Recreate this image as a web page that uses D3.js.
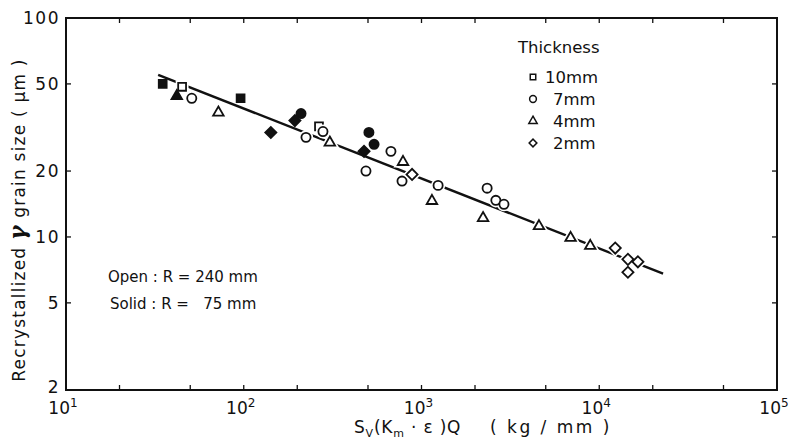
<!DOCTYPE html>
<html>
<head>
<meta charset="utf-8">
<script src="https://cdn.jsdelivr.net/npm/d3@7/dist/d3.min.js"></script>
<style>
  html, body { margin: 0; padding: 0; background: #fff; }
  svg { display: block; }
  text { font-family: "DejaVu Sans", sans-serif; fill: #111; }
</style>
</head>
<body>
<svg id="chart" width="791" height="439"></svg>
<script>
// ---- data ----
const xTickValues = [10, 100, 1000, 10000, 100000];
const xTickExponents = ["1", "2", "3", "4", "5"];
const xMinorTicks = [20, 50, 200, 500, 2000, 5000, 20000, 50000];
const yTickValues = [2, 5, 10, 20, 50, 100];
const yTickLabels = ["2", "5", "10", "20", "50", "100"];

// 10 mm (squares)
const sq10Open  = [[45, 48.5], [265, 32]];
const sq10Solid = [[35, 50], [96, 43]];
// 7 mm (circles)
const c7Open  = [[51, 43], [224, 28.5], [279, 30.3], [487, 20], [673, 24.6], [777, 18],
                 [1240, 17.2], [2340, 16.7], [2620, 14.7], [2910, 14.1]];
const c7Solid = [[210, 36.6], [506, 30], [541, 26.5]];
// 4 mm (triangles)
const t4Open  = [[72, 37], [305, 27], [787, 22], [1145, 14.6], [2220, 12.2],
                 [4580, 11.2], [6900, 9.9], [8900, 9.1]];
const t4Solid = [[42, 44]];
// 2 mm (diamonds)
const d2Open  = [[885, 19.3], [12300, 8.9], [14500, 7.9], [16500, 7.7], [14500, 6.9]];
const d2Solid = [[142, 30], [194, 34], [475, 24.6]];
// fitted line
const fitLine = [[33, 55], [22860, 6.8]];

const legendLabels = ["10mm", "7mm", "4mm", "2mm"];

// ---- layout ----
const svg = d3.select("#chart");
const L = 66, R = 777, T = 18, B = 390;
const x = d3.scaleLog().domain([10, 100000]).range([L, R]);
const y = d3.scaleLog().domain([2, 100]).range([B, T]);

// frame
svg.append("rect").attr("x", L).attr("y", T).attr("width", R - L).attr("height", B - T)
  .attr("fill", "none").attr("stroke", "#111").attr("stroke-width", 2);

// x ticks (bottom and top, inward)
const allX = xTickValues.concat(xMinorTicks);
svg.append("g").selectAll("line").data(allX).join("line")
  .attr("x1", d => x(d)).attr("x2", d => x(d)).attr("y1", B).attr("y2", B - 5)
  .attr("stroke", "#111").attr("stroke-width", 1.3);
svg.append("g").selectAll("line").data(allX).join("line")
  .attr("x1", d => x(d)).attr("x2", d => x(d)).attr("y1", T).attr("y2", T + 5)
  .attr("stroke", "#111").attr("stroke-width", 1.3);
// y ticks (left and right, inward)
const innerY = yTickValues.filter(v => v > 2 && v < 100);
svg.append("g").selectAll("line").data(innerY).join("line")
  .attr("x1", L).attr("x2", L + 5).attr("y1", d => y(d)).attr("y2", d => y(d))
  .attr("stroke", "#111").attr("stroke-width", 1.3);
svg.append("g").selectAll("line").data(innerY).join("line")
  .attr("x1", R).attr("x2", R - 5).attr("y1", d => y(d)).attr("y2", d => y(d))
  .attr("stroke", "#111").attr("stroke-width", 1.3);

// y tick labels
svg.append("g").selectAll("text").data(yTickValues).join("text")
  .attr("x", L - 6).attr("y", d => y(d) + (d === 2 ? 3 : 6))
  .attr("text-anchor", "end").attr("font-size", 17).attr("letter-spacing", 1.5)
  .text((d, i) => yTickLabels[i]);

// x tick labels with superscript
const xl = svg.append("g").selectAll("text").data(xTickValues).join("text")
  .attr("x", d => x(d) - 3).attr("y", B + 24)
  .attr("text-anchor", "middle").attr("font-size", 17);
xl.append("tspan").text("10");
xl.append("tspan").attr("dy", -7).attr("font-size", 12).text((d, i) => xTickExponents[i]);

// axis titles
const xt = svg.append("text").attr("x", 354).attr("y", 433).attr("font-size", 17).attr("letter-spacing", 0.8);
xt.append("tspan").text("S");
xt.append("tspan").attr("font-size", 11).attr("dy", 4).text("V");
xt.append("tspan").attr("dy", -4).text("(K");
xt.append("tspan").attr("font-size", 11).attr("dy", 4).text("m");
xt.append("tspan").attr("dy", -4).text(" · ε )Q");
xt.append("tspan").attr("x", 490).attr("letter-spacing", 2.5).text("( kg / mm )");

const yt = svg.append("text").attr("transform", "translate(25,220) rotate(-90)")
  .attr("text-anchor", "middle").attr("font-size", 17).attr("letter-spacing", 1.2);
yt.append("tspan").text("Recrystallized ");
yt.append("tspan").attr("font-family", "DejaVu Serif").attr("font-style", "italic")
  .attr("font-weight", "bold").attr("font-size", 22).text("γ");
yt.append("tspan").text(" grain size ( μm )");

// symbol helpers
function sym(type, size) {
  return d3.symbol().type(type).size(size)();
}
const shapes = {
  square:   { type: d3.symbolSquare,   size: 62, rot: 0 },
  circle:   { type: d3.symbolCircle,   size: 66, rot: 0 },
  triangle: { type: d3.symbolTriangle, size: 48, rot: 0 },
  diamond:  { type: d3.symbolSquare,   size: 62, rot: 45 }
};

// fitted line
svg.append("path").datum(fitLine)
  .attr("d", d3.line().x(d => x(d[0])).y(d => y(d[1])))
  .attr("fill", "none").attr("stroke", "#111").attr("stroke-width", 2.4);

function plot(data, shape, filled) {
  const s = shapes[shape];
  const g = svg.append("g");
  if (!filled) {
    g.selectAll("path.halo").data(data).join("path")
      .attr("d", sym(s.type, s.size))
      .attr("transform", d => `translate(${x(d[0])},${y(d[1])}) rotate(${s.rot})`)
      .attr("fill", "#fff").attr("stroke", "#fff").attr("stroke-width", 5);
  }
  g.selectAll("path.m").data(data).join("path")
    .attr("d", sym(s.type, s.size))
    .attr("transform", d => `translate(${x(d[0])},${y(d[1])}) rotate(${s.rot})`)
    .attr("fill", filled ? "#111" : "#fff")
    .attr("stroke", "#111").attr("stroke-width", 1.8);
}
plot(sq10Open, "square", false);
plot(c7Open, "circle", false);
plot(t4Open, "triangle", false);
plot(d2Open, "diamond", false);
plot(sq10Solid, "square", true);
plot(c7Solid, "circle", true);
plot(t4Solid, "triangle", true);
plot(d2Solid, "diamond", true);

// legend
svg.append("text").attr("x", 518).attr("y", 53).attr("font-size", 16.5).text("Thickness");
const legShapes = ["square", "circle", "triangle", "diamond"];
const legY = [77, 99, 121, 143];
const legSizes = [30, 36, 30, 30];
legShapes.forEach((sh, i) => {
  const s = shapes[sh];
  svg.append("path").attr("d", sym(s.type, legSizes[i]))
    .attr("transform", `translate(533,${legY[i]}) rotate(${s.rot})`)
    .attr("fill", "#fff").attr("stroke", "#111").attr("stroke-width", 1.5);
  svg.append("text").attr("x", i === 0 ? 545 : 553).attr("y", legY[i] + 6)
    .attr("font-size", 16.5).text(legendLabels[i]);
});

// annotation
svg.append("text").attr("x", 108).attr("y", 282).attr("font-size", 15)
  .attr("xml:space", "preserve").text("Open : R = 240 mm");
svg.append("text").attr("x", 110).attr("y", 309).attr("font-size", 15)
  .attr("xml:space", "preserve").text("Solid : R =   75 mm");
</script>
</body>
</html>
